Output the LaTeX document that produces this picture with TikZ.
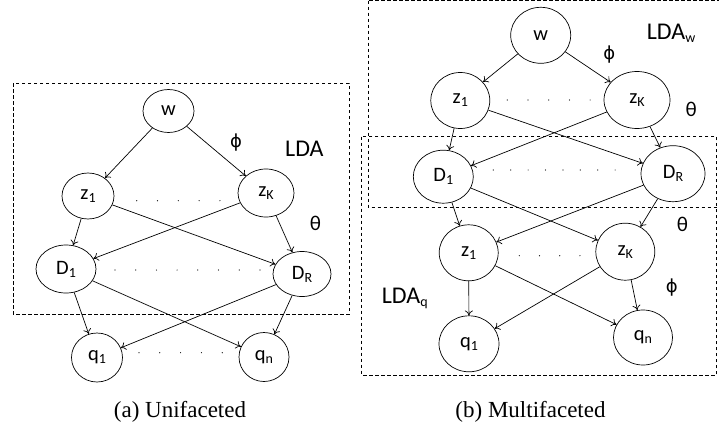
\documentclass[tikz,border=0pt]{standalone}
\usepackage{fontspec}
\setmainfont{Liberation Serif}
\newfontfamily\calfont{Carlito}
\newfontfamily\grkfont{DejaVu Sans}
\usetikzlibrary{shapes.geometric,arrows.meta}
\newcommand\sbx[1]{\raisebox{-3pt}{\fontsize{14}{14}\selectfont #1}}
\begin{document}
\begin{tikzpicture}[x=1pt,y=-1pt,
  ell/.style 2 args={ellipse,draw,line width=0.7pt,inner sep=0pt,minimum width=#1pt,minimum height=#2pt,font=\calfont\fontsize{20.5}{20.5}\selectfont},
  edge/.style={-{To[length=5pt,width=8pt]}, line width=0.7pt},
  box/.style={draw, dash pattern=on 3.5pt off 2.5pt, line width=0.7pt},
  lbl/.style={font=\calfont\fontsize{24}{24}\selectfont, inner sep=0pt, anchor=base west},
  grk/.style={font=\calfont\fontsize{21}{21}\selectfont, inner sep=0pt},
  phi/.style={font=\grkfont\fontsize{18}{18}\selectfont, inner sep=0pt},
  captext/.style={font=\fontsize{23}{23}\selectfont, inner sep=0pt, anchor=base}
]
\useasboundingbox (0,0) rectangle (719,428);
% ---------- (a) Unifaceted ----------
\draw[box] (13,83) rectangle (349,314);
\node[ell={51}{43}] (aw) at (168.5,111) {w};
\node[ell={52}{46}] (az1) at (88,196) {z\sbx{1}};
\node[ell={56}{48}] (azK) at (266,193) {z\sbx{K}};
\node[ell={60}{48}] (aD1) at (66,269) {D\sbx{1}};
\node[ell={58}{45}] (aDR) at (302,274) {D\sbx{R}};
\node[ell={51}{49}] (aq1) at (97,357.5) {q\sbx{1}};
\node[ell={50}{49}] (aqn) at (264,357) {q\sbx{n}};
\draw[edge] (aw) -- (az1);
\draw[edge] (aw) -- (azK);
\draw[edge] (az1) -- (aD1);
\draw[edge] (az1) -- (aDR);
\draw[edge] (azK) -- (aD1);
\draw[edge] (azK) -- (aDR);
\draw[edge] (aD1) -- (aq1);
\draw[edge] (aD1) -- (aqn);
\draw[edge] (aDR) -- (aq1);
\draw[edge] (aDR) -- (aqn);
\foreach \i in {0,...,4} \fill ({136.7+\i*20.8},200.7) circle (0.6);
\foreach \i in {0,...,7} \fill ({115+\i*20.7},270) circle (0.6);
\foreach \i in {0,...,4} \fill ({139+\i*20.8},352.7) circle (0.6);
\node[phi] (aphi) at (236,143) {ϕ};
\node[grk] (atheta) at (315.5,223) {θ};
\node[lbl] (alda) at (285,156.7) {LDA};
\node[captext] (acap) at (180,417) {(a) Unifaceted};
% ---------- (b) Multifaceted ----------
\draw[box] (368.3,0.7) rectangle (722,207.3);
\draw[box] (361.7,136.7) rectangle (716.7,375);
\node[ell={60}{56}] (bw) at (540.7,35.3) {w};
\node[ell={59}{56}] (bz1) at (460.3,100.5) {z\sbx{1}};
\node[ell={66}{57}] (bzK) at (637,100) {z\sbx{K}};
\node[ell={60}{53}] (bD1) at (443.3,176.7) {D\sbx{1}};
\node[ell={64}{56}] (bDR) at (673,173.7) {D\sbx{R}};
\node[ell={59}{56}] (bz1l) at (468.7,252.8) {z\sbx{1}};
\node[ell={59}{57}] (bzKl) at (625.3,251.7) {z\sbx{K}};
\node[ell={60}{56}] (bq1) at (469,343.8) {q\sbx{1}};
\node[ell={59}{55}] (bqn) at (643,337.5) {q\sbx{n}};
\draw[edge] (bw) -- (bz1);
\draw[edge] (bw) -- (bzK);
\draw[edge] (bz1) -- (bD1);
\draw[edge] (bz1) -- (bDR);
\draw[edge] (bzK) -- (bD1);
\draw[edge] (bzK) -- (bDR);
\draw[edge] (bD1) -- (bz1l);
\draw[edge] (bD1) -- (bzKl);
\draw[edge] (bDR) -- (bz1l);
\draw[edge] (bDR) -- (bzKl);
\draw[edge] (bz1l) -- (bq1);
\draw[edge] (bz1l) -- (bqn);
\draw[edge] (bzKl) -- (bq1);
\draw[edge] (bzKl) -- (bqn);
\foreach \i in {0,...,4} \fill ({507.3+\i*20.7},100) circle (0.6);
\foreach \i in {0,...,7} \fill ({493.3+\i*17.4},170) circle (0.6);
\foreach \i in {0,...,3} \fill ({519.3+\i*20.2},255.7) circle (0.6);
\node[phi] (bphi) at (609.3,55) {ϕ};
\node[grk] (btheta) at (691.3,109.5) {θ};
\node[grk] (btheta2) at (682.5,224) {θ};
\node[phi] (bphi2) at (671.7,288) {ϕ};
\node[lbl] (bldaw) at (646.7,39.5) {LDA\sbx{w}};
\node[lbl] (bldaq) at (381.7,303.3) {LDA\sbx{q}};
\node[captext] (bcap) at (530.5,417) {(b) Multifaceted};
\end{tikzpicture}
\end{document}
